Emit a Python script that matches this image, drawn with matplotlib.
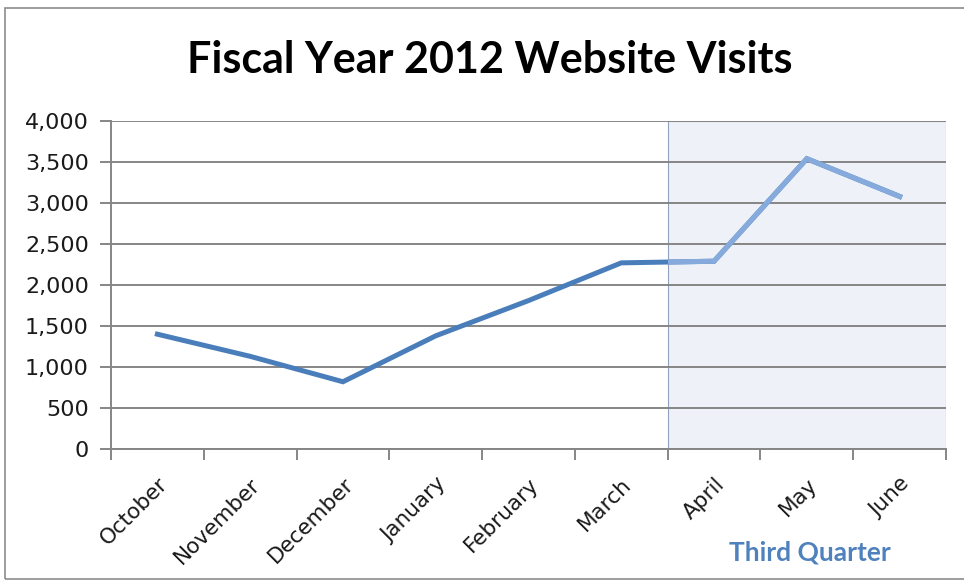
import matplotlib
matplotlib.use("Agg")
import matplotlib.pyplot as plt
from matplotlib.patches import Rectangle
from matplotlib.ticker import FuncFormatter, MultipleLocator

months = ["October", "November", "December", "January", "February",
          "March", "April", "May", "June"]
visits = [1400, 1130, 820, 1380, 1810, 2270, 2290, 3540, 3080]
quarter_label = "Third Quarter"
quarter_months = ["April", "May", "June"]

DARK = "#4a7ebb"
LIGHT = "#85aadb"

fig = plt.figure(figsize=(9.64, 5.84), dpi=100)
ax = fig.add_axes([111 / 964, 1 - 449 / 584, 835 / 964, 328 / 584])

x = list(range(len(months)))
q0 = months.index(quarter_months[0]) - 0.5
q1 = months.index(quarter_months[-1]) + 0.5

# shaded third quarter block
shade = Rectangle((q0, 0), q1 - q0, 4000, facecolor="#eef2f8",
                  edgecolor="#8fa3bf", linewidth=0.8, zorder=0.5)
ax.add_patch(shade)

ax.plot(x, visits, color=DARK, linewidth=3.6, solid_joinstyle="miter", zorder=3)
light, = ax.plot(x, visits, color=LIGHT, linewidth=3.7, solid_joinstyle="miter", zorder=4)
clip = Rectangle((q0, 0), q1 - q0, 4000, transform=ax.transData)
light.set_clip_path(clip)

ax.set_xlim(-0.5, len(months) - 0.5)
ax.set_ylim(0, 4000)
ax.yaxis.set_major_locator(MultipleLocator(500))
ax.yaxis.set_major_formatter(FuncFormatter(lambda v, p: f"{int(v):,}"))
ax.grid(axis="y", color="#868686", linewidth=1.4, zorder=1)
ax.set_axisbelow(False)

ax.set_xticks(x)
ax.set_xticklabels(months, rotation=45, ha="right", va="top",
                   rotation_mode="anchor", fontsize=15.5, color="#1a1a1a",
                   family="DejaVu Sans")
ax.set_xticks([i - 0.5 for i in range(len(months) + 1)], minor=True)
ax.tick_params(axis="x", which="major", length=0, pad=18)
ax.tick_params(axis="x", which="minor", length=8, width=1.4, color="#868686")
ax.tick_params(axis="y", length=8, width=1.4, color="#868686",
               labelsize=16, labelcolor="#1a1a1a", pad=8)
for lab in ax.get_yticklabels():
    lab.set_family("DejaVu Sans")

for s in ["top", "right"]:
    ax.spines[s].set_visible(False)
for s in ["left", "bottom"]:
    ax.spines[s].set_color("#868686")
    ax.spines[s].set_linewidth(1.4)

fig.text(490 / 964, 1 - 60 / 584, "Fiscal Year 2012 Website Visits",
         ha="center", va="center", fontsize=31, fontweight="bold",
         family="Lato", color="black")
fig.text(810 / 964, 1 - 553 / 584, quarter_label, ha="center", va="center",
         fontsize=19, fontweight="bold", family="Lato", color="#4f81bd")

# outer chart border
fig.patches.append(Rectangle((5 / 964, 1 - 579 / 584), 1.0, 571 / 584,
                             transform=fig.transFigure, fill=False,
                             edgecolor="#8c8c8c", linewidth=1.2))

fig.savefig("out.png", dpi=100)
